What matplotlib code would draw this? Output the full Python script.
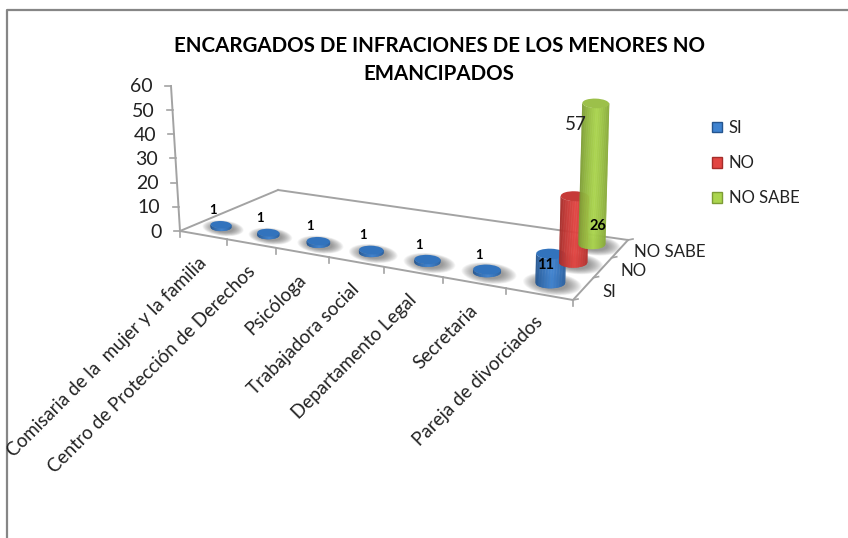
import numpy as np
import matplotlib
matplotlib.use('Agg')
import matplotlib.pyplot as plt
from matplotlib.patches import Patch, Ellipse

plt.rcParams['font.family'] = ['Lato', 'DejaVu Sans']

categorias = ['Comisaria de la  mujer y la familia', 'Centro de Protección de Derechos', 'Psicóloga',
              'Trabajadora social', 'Departamento Legal', 'Secretaria', 'Pareja de divorciados']
series = ['SI', 'NO', 'NO SABE']
si = [1, 1, 1, 1, 1, 1, 11]
no = [0, 0, 0, 0, 0, 0, 26]
no_sabe = [0, 0, 0, 0, 0, 0, 57]
y_ticks = [0, 10, 20, 30, 40, 50, 60]
titulo = 'ENCARGADOS DE INFRACIONES DE LOS MENORES NO\nEMANCIPADOS'

# colores: borde, centro
colores = {'SI': ('#24558f', '#3f83d0'), 'NO': ('#a52d2a', '#e24542'), 'NO SABE': ('#7d9c35', '#abd54e')}
tapas = {'SI': '#3273bd', 'NO': '#c63b38', 'NO SABE': '#9cc04a'}
gris = '#a3a3a3'

# esquinas del piso en pixeles, frente izq, frente der, fondo der, fondo izq
piso = np.array([[180, 231], [573, 300], [628, 240], [278, 190]], float)
base = np.array([[0, 0], [7, 0], [7, 3], [0, 3]], float)

# homografia del piso
A, b = [], []
for (u, v), (x, y) in zip(base, piso):
    A.append([u, v, 1, 0, 0, 0, -u * x, -v * x])
    A.append([0, 0, 0, u, v, 1, -u * y, -v * y])
    b += [x, y]
H = np.append(np.linalg.solve(np.array(A), np.array(b)), 1).reshape(3, 3)


def proyectar(u, v, h=0):
    p = H @ np.array([u, v, 1.0])
    x, y = p[0] / p[2], p[1] / p[2]
    # las verticales convergen hacia abajo
    esc = 2.417 + 0.004 * (y - 231)
    lean = -0.062 + (x - 180) * 0.09 / 412
    return x + lean * esc * h, y - esc * h


def cilindro(ax, u, v, valor, nombre):
    borde, centro = [np.array(matplotlib.colors.to_rgb(c)) for c in colores[nombre]]
    x0, y0 = proyectar(u, v)
    x1, y1 = proyectar(u, v, valor)
    # las series de atras van un poco mas a la derecha
    if v > 1:
        x0 += 2
        x1 += 2
    izq = proyectar(u - 0.5, v)
    der = proyectar(u + 0.5, v)
    rx = 0.225 * (der[0] - izq[0])
    ry = rx * 0.36

    # sombra
    for k in np.linspace(2.0, 1.0, 16):
        ax.add_patch(Ellipse((x0 + 2, y0 + 1), 2 * rx * k, 2 * ry * k * 1.05, angle=6, fc='#555555', ec='none', alpha=0.05, zorder=2 + v))

    ts = np.linspace(-1, 1, 41)
    for t0, t1 in zip(ts[:-1], ts[1:]):
        tm = (t0 + t1) / 2
        luz = np.clip(1 - abs(tm - 0.1) / 1.05, 0, 1) ** 0.7
        col = borde + (centro - borde) * luz
        xs = [x0 + rx * t0, x0 + rx * t1, x1 + rx * t1, x1 + rx * t0]
        ys = [y0 + ry * np.sqrt(1 - t0 ** 2), y0 + ry * np.sqrt(1 - t1 ** 2),
              y1 + ry * np.sqrt(1 - t1 ** 2), y1 + ry * np.sqrt(1 - t0 ** 2)]
        ax.fill(xs, ys, color=col, lw=0.3, zorder=3 + v)
    ax.add_patch(Ellipse((x1, y1), 2 * rx, 2 * ry, angle=2, fc=tapas[nombre], ec='none', zorder=3.5 + v))


fig = plt.figure(figsize=(8.48, 5.38), dpi=100)
ax = fig.add_axes([0, 0, 1, 1])
ax.set_xlim(0, 848)
ax.set_ylim(538, 0)
ax.axis('off')

# marco
ax.plot([7, 7, 848], [538, 10, 10], color='#868686', lw=1.6, zorder=1)

# piso y ejes
for a, c in [((0, 0), (7, 0)), ((7, 0), (7, 3)), ((7, 3), (0, 3)), ((0, 3), (0, 0))]:
    pa, pc = proyectar(*a), proyectar(*c)
    ax.plot([pa[0], pc[0]], [pa[1], pc[1]], color=gris, lw=1.4, zorder=1)
for u in range(8):
    x, y = proyectar(u, 0)
    ax.plot([x, x], [y, y + 6], color=gris, lw=1.2, zorder=1)
for v in range(4):
    x, y = proyectar(7, v)
    ax.plot([x, x + 5], [y, y - 1], color=gris, lw=1.2, zorder=1)

x0, y0 = proyectar(0, 0, y_ticks[0])
x1, y1 = proyectar(0, 0, y_ticks[-1])
ax.plot([x0, x1], [y0, y1], color=gris, lw=1.4, zorder=1)
for t in y_ticks:
    x, y = proyectar(0, 0, t)
    ax.plot([x - 6, x], [y, y], color=gris, lw=1.2, zorder=1)
    ax.text(x - 18, y + 1, str(t), ha='right', va='center', fontsize=14, color='#222222')

# etiquetas de categorias
for i, nombre in enumerate(categorias):
    x, y = proyectar(i + 0.5, 0)
    ax.text(x + 1, y + 25, nombre, rotation=45, rotation_mode='anchor', ha='right', va='center',
            fontsize=13.5, color='#222222')

# etiquetas de series
ajuste_serie = [(19, 4), (18, 4), (14, 3)]
for j, nombre in enumerate(series):
    x, y = proyectar(7, j + 0.5)
    ax.text(x + ajuste_serie[j][0], y + ajuste_serie[j][1], nombre, ha='left', va='center', fontsize=12.2, color='#222222')

# cilindros, de atras hacia adelante
valores = [si, no, no_sabe]
for j in [2, 1, 0]:
    for i, val in enumerate(valores[j]):
        if val > 0:
            cilindro(ax, i + 0.5, j + 0.5, val, series[j])

# etiquetas de datos
for i, val in enumerate(si[:-1]):
    x, y = proyectar(i + 0.5, 0.5, val)
    ax.text(x - 8, y - 15, str(val), ha='center', va='center', fontsize=9.5, fontweight='bold', color='black', zorder=10)
x, y = proyectar(6.5, 0.5, si[-1])
ax.text(x - 5, y + 11, str(si[-1]), ha='center', va='center', fontsize=10.5, fontweight='bold', color='black', zorder=10)
x, y = proyectar(6.5, 1.5, no[-1])
ax.text(x + 25, y + 30, str(no[-1]), ha='center', va='center', fontsize=10.5, fontweight='bold', color='black', zorder=10)
x, y = proyectar(6.5, 2.5, no_sabe[-1])
ax.text(x - 18, y + 21, str(no_sabe[-1]), ha='center', va='center', fontsize=13.5, color='#222222', zorder=10)

# titulo
ax.text(439, 60, titulo, ha='center', va='center', fontsize=14.8, fontweight='bold', color='black', linespacing=1.5)

# leyenda
handles = [Patch(facecolor=colores[s][1], edgecolor=colores[s][0], label=s) for s in series]
ax.legend(handles=handles, loc='upper left', bbox_to_anchor=(0.8396, 0.777), frameon=False, fontsize=12,
          handlelength=0.6, handleheight=0.6, handletextpad=0.4, labelspacing=1.15, borderpad=0, borderaxespad=0,
          labelcolor='#222222')

fig.savefig('out.png', dpi=100)
